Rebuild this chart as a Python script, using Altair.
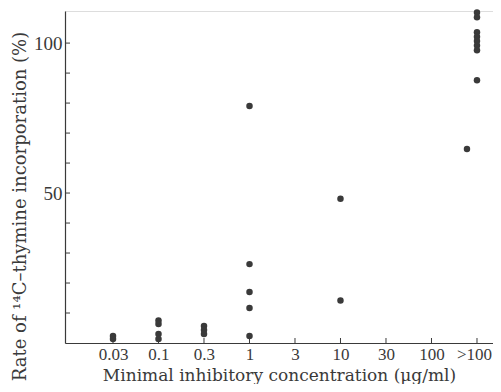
import altair as alt
import pandas as pd

# x categories (minimal inhibitory concentration, µg/ml)
cat_labels = ["0.03", "0.1", "0.3", "1", "3", "10", "30", "100", ">100"]
cat_index = list(range(len(cat_labels)))

# points: category position and rate of 14C-thymine incorporation (%)
pt_pos = [0, 0,
          1, 1, 1, 1,
          2, 2, 2,
          3, 3, 3, 3, 3,
          5, 5,
          7.78,
          8, 8, 8, 8, 8, 8, 8, 8]
pt_rate = [2.3, 1.3,
           7.5, 6.3, 3.0, 1.3,
           5.7, 4.3, 3.0,
           79, 26.3, 17, 11.7, 2.3,
           48.1, 14.2,
           64.7,
           110.2, 108.6, 103.6, 102.1, 100.7, 99.2, 97.6, 87.6]

y_label_values = [50, 100]
y_tick_values = [10, 20, 30, 40, 50, 60, 70, 80, 90, 100]

W, H = 428, 332
FONT = "Liberation Serif"
TFONT = "DejaVu Serif"
INK = "#3a3a3a"

pts = pd.DataFrame({"pos": pt_pos, "rate": pt_rate})
xt = pd.DataFrame({"pos": cat_index})
yt = pd.DataFrame({"rate": y_tick_values})

label_expr = "[" + ",".join("'" + s + "'" for s in cat_labels) + "][datum.value]"

xscale = alt.Scale(domain=[-1.055, 8.352], nice=False, zero=False)
yscale = alt.Scale(domain=[0, 110.7], nice=False, zero=False)

points = alt.Chart(pts).mark_circle(size=42, color=INK, opacity=1).encode(
    x=alt.X("pos:Q", scale=xscale,
            axis=alt.Axis(values=cat_index, labelExpr=label_expr, grid=False,
                          ticks=False, labelPadding=3, labelFont=FONT,
                          labelFontSize=17, labelColor=INK, domainColor=INK,
                          domainWidth=1.2,
                          labelOffset={"condition": {"test": "datum.value == 8", "value": -3}, "value": 0},
                          title="Minimal inhibitory concentration (\u03bcg/ml)",
                          titleFont=TFONT, titleFontSize=17, titleFontWeight="normal",
                          titleColor=INK, titleY=37, titleBaseline="alphabetic")),
    y=alt.Y("rate:Q", scale=yscale,
            axis=alt.Axis(values=y_label_values, grid=False, ticks=False,
                          labelPadding=3, labelFont=FONT, labelFontSize=19,
                          labelColor=INK, domainColor=INK, domainWidth=1.2,
                          title="Rate of \u00b9\u2074C\u2013thymine incorporation (%)",
                          titleFont=TFONT, titleFontSize=18, titleFontWeight="normal",
                          titleColor=INK, titleX=-45, titleY=195,
                          titleAlign="center", titleBaseline="middle")),
)

yticks = alt.Chart(yt).mark_rule(color=INK, strokeWidth=1).encode(
    y=alt.Y("rate:Q", scale=yscale),
    x=alt.value(0), x2=alt.value(5),
)

xticks = alt.Chart(xt).mark_rule(color=INK, strokeWidth=1).encode(
    x=alt.X("pos:Q", scale=xscale),
    y=alt.value(H), y2=alt.value(H - 5),
)

chart = alt.layer(yticks, xticks, points).properties(
    width=W, height=H,
    autosize=alt.AutoSizeParams(type="none"),
    padding={"left": 57, "top": 3, "right": 0, "bottom": 41},
).configure_view(stroke=None).configure(background="white")

chart.save("out.html", embed_options={"renderer": "svg", "actions": False})
